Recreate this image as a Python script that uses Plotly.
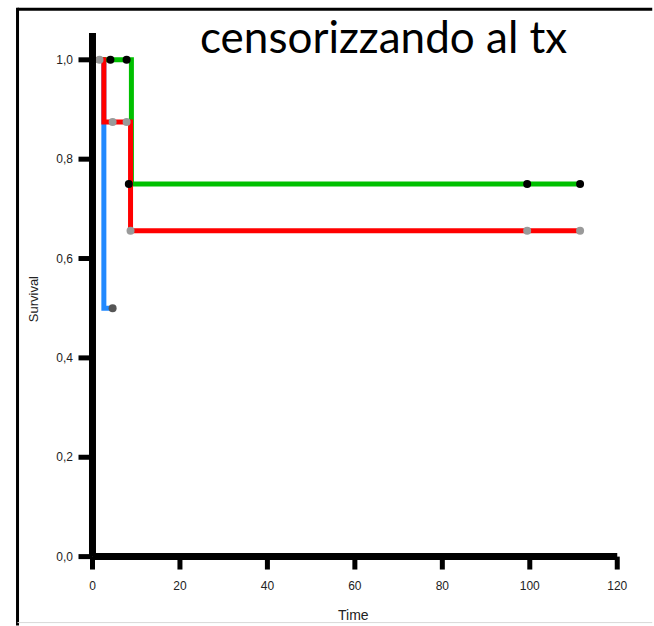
import plotly.graph_objects as go

# Kaplan-Meier step curves (time in months, survival fraction)
blue_t = [0, 2.6, 4.6]
blue_s = [1.0, 0.5, 0.5]

green_t = [0, 8.9, 111.5]
green_s = [1.0, 0.75, 0.75]

red_t = [0, 2.6, 8.7, 111.5]
red_s = [1.0, 0.875, 0.656, 0.656]

# censored observations
blue_cens_t = [4.6]
blue_cens_s = [0.5]
green_cens_t = [4.1, 7.8, 8.3, 99.4, 111.5]
green_cens_s = [1.0, 1.0, 0.75, 0.75, 0.75]
red_cens_t = [1.6, 4.6, 7.8, 8.7, 99.4, 111.5]
red_cens_s = [1.0, 0.875, 0.875, 0.656, 0.656, 0.656]

x_ticks = [0, 20, 40, 60, 80, 100, 120]
y_ticks = [0.0, 0.2, 0.4, 0.6, 0.8, 1.0]
y_tick_text = ["0,0", "0,2", "0,4", "0,6", "0,8", "1,0"]

W, H = 654, 626
X_RANGE = [-4, 122]
Y_RANGE = [-0.035, 1.06]
PX_X = 525 / 120.0   # pixels per time unit
PX_Y = 497.0         # pixels per survival unit
left = 92 - (0 - X_RANGE[0]) * PX_X
right = W - (92 + X_RANGE[1] * PX_X)
top = 557 - Y_RANGE[1] * PX_Y
bottom = H - (557 + (0 - Y_RANGE[0]) * PX_Y)

BLUE = "#2289ff"
GREEN = "#00c000"
RED = "#ff0000"

fig = go.Figure()

for t, s, c in [(blue_t, blue_s, BLUE), (green_t, green_s, GREEN), (red_t, red_s, RED)]:
    fig.add_trace(go.Scatter(x=t, y=s, mode="lines", line=dict(color=c, width=5, shape="hv"),
                             hoverinfo="skip", showlegend=False))

for t, s, c in [(blue_cens_t, blue_cens_s, "#555555"),
                (green_cens_t, green_cens_s, "#000000"),
                (red_cens_t, red_cens_s, "#9a9a9a")]:
    fig.add_trace(go.Scatter(x=t, y=s, mode="markers", marker=dict(color=c, size=8, line=dict(width=0)),
                             hoverinfo="skip", showlegend=False, cliponaxis=False))

shapes = []
# axis lines
shapes.append(dict(type="line", xref="x", yref="y", x0=0, x1=0, y0=0, y1=1.054,
                   line=dict(color="black", width=7)))
shapes.append(dict(type="line", xref="x", yref="y", x0=0, x1=120, y0=0, y1=0,
                   line=dict(color="black", width=7)))
# tick marks
for v in x_ticks:
    shapes.append(dict(type="line", xref="x", yref="y", x0=v, x1=v, y0=0, y1=-0.026,
                       line=dict(color="black", width=5)))
for v in y_ticks:
    shapes.append(dict(type="line", xref="x", yref="y", x0=0, x1=-3.2, y0=v, y1=v,
                       line=dict(color="black", width=5)))


def px_to_paper_x(px):
    return (px - left) / (W - left - right)


def px_to_paper_y(py):
    return 1 - (py - top) / (H - top - bottom)


# outer frame (open on the right)
shapes.append(dict(type="line", xref="paper", yref="paper",
                   x0=px_to_paper_x(17), x1=px_to_paper_x(652),
                   y0=px_to_paper_y(9.5), y1=px_to_paper_y(9.5),
                   line=dict(color="black", width=3)))
shapes.append(dict(type="line", xref="paper", yref="paper",
                   x0=px_to_paper_x(17), x1=px_to_paper_x(17),
                   y0=px_to_paper_y(8), y1=px_to_paper_y(626),
                   line=dict(color="black", width=3)))
shapes.append(dict(type="line", xref="paper", yref="paper",
                   x0=px_to_paper_x(17), x1=px_to_paper_x(652),
                   y0=px_to_paper_y(623), y1=px_to_paper_y(623),
                   line=dict(color="#d8d8d8", width=1)))

tick_font = dict(family="Liberation Sans, Arial, sans-serif", size=12, color="#222222")

fig.update_layout(
    width=W, height=H,
    margin=dict(l=left, r=right, t=top, b=bottom, pad=0),
    paper_bgcolor="white", plot_bgcolor="white",
    shapes=shapes,
    xaxis=dict(range=X_RANGE, tickvals=x_ticks, ticktext=[str(v) for v in x_ticks],
               showgrid=False, zeroline=False, showline=False, ticks="",
               tickfont=tick_font, ticklabelstandoff=3),
    yaxis=dict(range=Y_RANGE, tickvals=y_ticks, ticktext=y_tick_text,
               showgrid=False, zeroline=False, showline=False, ticks="",
               tickfont=tick_font, ticklabelstandoff=1),
    annotations=[
        dict(text="censorizzando al tx", xref="paper", yref="paper",
             x=px_to_paper_x(383), y=px_to_paper_y(36), xanchor="center", yanchor="middle",
             showarrow=False, font=dict(family="Lato, sans-serif", size=44, color="black")),
        dict(text="Time", xref="paper", yref="paper",
             x=px_to_paper_x(353), y=px_to_paper_y(615), xanchor="center", yanchor="middle",
             showarrow=False, font=dict(family="Liberation Sans, Arial, sans-serif", size=14, color="#222222")),
        dict(text="Survival", xref="paper", yref="paper", textangle=-90,
             x=px_to_paper_x(33), y=px_to_paper_y(300), xanchor="center", yanchor="middle",
             showarrow=False, font=dict(family="Liberation Sans, Arial, sans-serif", size=13, color="#222222")),
    ],
)

fig.write_html("out.html", config={"displayModeBar": False})
